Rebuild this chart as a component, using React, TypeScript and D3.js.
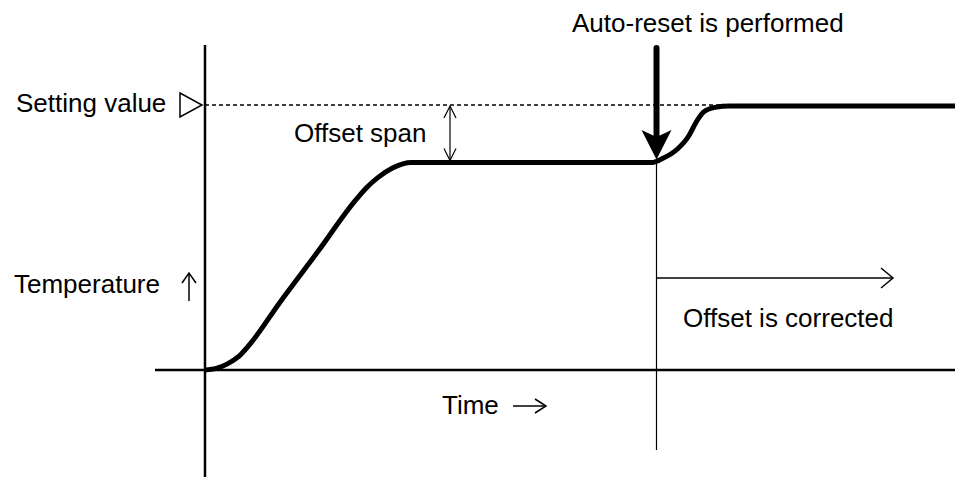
import * as d3 from 'd3';

// response curve (time %, temperature % of setting value)
const times = [0, 1.5, 3, 4.5, 6, 10, 15, 20, 21.5, 23, 25, 27.5, 59.5, 61, 63, 64.5, 65.5, 66.5, 68, 70, 100];
const temps = [0, 0.6, 2.3, 5.1, 9.8, 25.6, 44.5, 63.8, 68.7, 72.5, 76.2, 78.3, 78.3, 79.8, 83.4, 88.3, 93.6, 97.4, 99.1, 99.6, 99.6];

const settingValue = 100;
const plateauTemp = 78.3;
const resetTime = 60.2;

const labels = {
  setting: 'Setting value',
  offsetSpan: 'Offset span',
  temperature: 'Temperature',
  time: 'Time',
  autoReset: 'Auto-reset is performed',
  corrected: 'Offset is corrected',
};

const W = 955;
const H = 477;
const font = '"Liberation Sans", Arial, sans-serif';

export default function App() {
  const x = d3.scaleLinear().domain([0, 100]).range([205, 955]);
  const y = d3.scaleLinear().domain([0, 100]).range([370, 105]);

  const pts: [number, number][] = times.map((t, i) => [t, temps[i]]);
  const line = d3
    .line<[number, number]>()
    .x((d) => x(d[0]))
    .y((d) => y(d[1]))
    .curve(d3.curveMonotoneX);

  const x0 = x(0);
  const y0 = y(0);
  const ySet = y(settingValue);
  const yPlat = y(plateauTemp);
  const xReset = x(resetTime);
  const xSpan = 450;

  const txt = { fontFamily: font, fontSize: 26, fill: '#000' };

  return (
    <svg
      width={W}
      height={H}
      style={{ position: 'absolute', left: 0, top: 0, background: '#fff' }}
    >
      {/* axes */}
      <line x1={x0} x2={x0} y1={45} y2={H} stroke="#000" strokeWidth={2.5} />
      <line x1={155} x2={W} y1={y0} y2={y0} stroke="#000" strokeWidth={2.5} />

      {/* setting value dashed line */}
      <line
        x1={x0}
        x2={x(70)}
        y1={ySet}
        y2={ySet}
        stroke="#000"
        strokeWidth={1.3}
        strokeDasharray="4,3"
      />
      <path
        d={`M180,${ySet - 12}L202,${ySet}L180,${ySet + 12}Z`}
        fill="none"
        stroke="#000"
        strokeWidth={1.5}
      />
      <text x={16} y={112} {...txt}>{labels.setting}</text>

      {/* offset span double arrow */}
      <line x1={xSpan} x2={xSpan} y1={ySet + 1} y2={yPlat - 2} stroke="#000" strokeWidth={1.2} />
      <path
        d={`M${xSpan - 6},${ySet + 13}L${xSpan},${ySet + 1}L${xSpan + 6},${ySet + 13}`}
        fill="none"
        stroke="#000"
        strokeWidth={1.2}
      />
      <path
        d={`M${xSpan - 6},${yPlat - 14}L${xSpan},${yPlat - 2}L${xSpan + 6},${yPlat - 14}`}
        fill="none"
        stroke="#000"
        strokeWidth={1.2}
      />
      <text x={294} y={142} {...txt}>{labels.offsetSpan}</text>

      {/* temperature label + arrow */}
      <text x={14} y={293} {...txt}>{labels.temperature}</text>
      <line x1={189} x2={189} y1={274} y2={301} stroke="#000" strokeWidth={1.5} />
      <path d="M182,283L189,273L196,283" fill="none" stroke="#000" strokeWidth={1.5} />

      {/* time label + arrow */}
      <text x={442} y={414} {...txt}>{labels.time}</text>
      <line x1={513} x2={545} y1={406} y2={406} stroke="#000" strokeWidth={1.5} />
      <path d="M535,399L546,406L535,413" fill="none" stroke="#000" strokeWidth={1.5} />

      {/* reset marker line */}
      <line x1={xReset} x2={xReset} y1={yPlat} y2={450} stroke="#000" strokeWidth={1.2} />

      {/* offset corrected arrow */}
      <line x1={xReset} x2={892} y1={278} y2={278} stroke="#000" strokeWidth={1.5} />
      <path d="M881,268L893,278L881,288" fill="none" stroke="#000" strokeWidth={1.5} />
      <text x={683} y={327} {...txt}>{labels.corrected}</text>

      {/* response curve */}
      <path d={line(pts) ?? ''} fill="none" stroke="#000" strokeWidth={5} strokeLinejoin="round" />

      {/* auto-reset thick arrow */}
      <line x1={xReset} x2={xReset} y1={48} y2={136} stroke="#000" strokeWidth={6} strokeLinecap="round" />
      <path
        d={`M${xReset - 15},${130}L${xReset},${137}L${xReset + 15},${130}L${xReset},${yPlat - 3}Z`}
        fill="#000"
      />
      <text x={572} y={32} {...txt}>{labels.autoReset}</text>
    </svg>
  );
}
